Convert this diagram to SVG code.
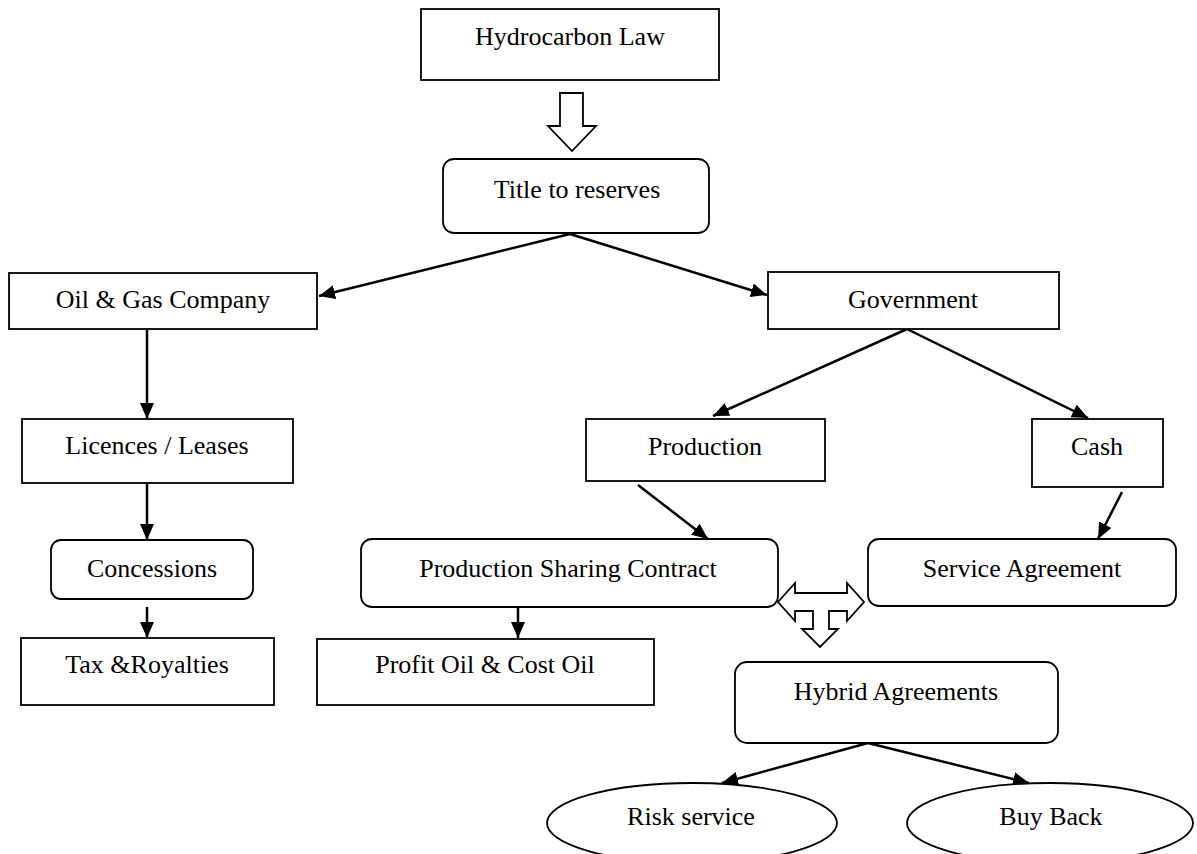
<svg xmlns="http://www.w3.org/2000/svg" width="1197" height="854" viewBox="0 0 1197 854">
<style>
.box{fill:#fff;stroke:#000;stroke-width:1.8}
.t{font-family:"Liberation Serif","Times New Roman",serif;font-size:26px;fill:#000;text-anchor:middle}
.c{stroke:#000;stroke-width:2.5;fill:none;marker-end:url(#ah)}
.blk{fill:#fff;stroke:#000;stroke-width:1.8;stroke-linejoin:miter}
</style>
<defs>
<marker id="ah" markerUnits="userSpaceOnUse" markerWidth="17" markerHeight="15" refX="16" refY="7" orient="auto">
<path d="M0,0 L16,7 L0,14 z" fill="#000"/>
</marker>
</defs>
<rect width="1197" height="854" fill="#fff"/>

<g id="connectors">
<polygon class="blk" points="560,93 583,93 583,126 596,126 572,151 548,126 560,126"/>
<line class="c" x1="570" y1="234" x2="319" y2="296"/>
<line class="c" x1="570" y1="234" x2="767" y2="295"/>
<line class="c" x1="147" y1="329" x2="147" y2="419"/>
<line class="c" x1="147" y1="483" x2="147" y2="540"/>
<line class="c" x1="147" y1="607" x2="147" y2="638"/>
<line class="c" x1="907" y1="329" x2="713" y2="416"/>
<line class="c" x1="907" y1="329" x2="1088" y2="418"/>
<line class="c" x1="638" y1="485" x2="708" y2="539"/>
<line class="c" x1="1122" y1="492" x2="1098" y2="539"/>
<line class="c" x1="518" y1="607" x2="518" y2="638"/>
<line class="c" x1="868" y1="743" x2="722" y2="783"/>
<line class="c" x1="868" y1="743" x2="1029" y2="783"/>
<polygon class="blk" points="778,602 795,583 795,593 847,593 847,583 864,602 847,621 847,611 829,611 829,629 838,629 820,647 802,629 813,629 813,611 795,611 795,621"/>
</g>

<g id="hydrocarbon-law"><rect class="box" x="421" y="9" width="298" height="71"/><text class="t" x="570" y="45">Hydrocarbon Law</text></g>
<g id="title-to-reserves"><rect class="box" x="443" y="159" width="266" height="74" rx="11"/><text class="t" x="577" y="198">Title to reserves</text></g>
<g id="oil-gas-company"><rect class="box" x="9" y="273" width="308" height="56"/><text class="t" x="163" y="308">Oil &amp; Gas Company</text></g>
<g id="government"><rect class="box" x="768" y="272" width="291" height="57"/><text class="t" x="913" y="308">Government</text></g>
<g id="licences-leases"><rect class="box" x="22" y="419" width="271" height="64"/><text class="t" x="157" y="454">Licences / Leases</text></g>
<g id="production"><rect class="box" x="586" y="419" width="239" height="62"/><text class="t" x="705" y="455">Production</text></g>
<g id="cash"><rect class="box" x="1032" y="419" width="131" height="68"/><text class="t" x="1097" y="455">Cash</text></g>
<g id="concessions"><rect class="box" x="51" y="540" width="202" height="59" rx="10"/><text class="t" x="152" y="577">Concessions</text></g>
<g id="psc"><rect class="box" x="361" y="539" width="417" height="68" rx="11"/><text class="t" x="568" y="577">Production Sharing Contract</text></g>
<g id="service-agreement"><rect class="box" x="868" y="539" width="308" height="67" rx="11"/><text class="t" x="1022" y="577">Service Agreement</text></g>
<g id="tax-royalties"><rect class="box" x="21" y="638" width="253" height="67"/><text class="t" x="147" y="673">Tax &amp;Royalties</text></g>
<g id="profit-cost-oil"><rect class="box" x="317" y="639" width="337" height="66"/><text class="t" x="485" y="673">Profit Oil &amp; Cost Oil</text></g>
<g id="hybrid-agreements"><rect class="box" x="735" y="662" width="323" height="81" rx="12"/><text class="t" x="896" y="700">Hybrid Agreements</text></g>
<g id="risk-service"><ellipse class="box" cx="692" cy="823" rx="145" ry="40"/><text class="t" x="691" y="825">Risk service</text></g>
<g id="buy-back"><ellipse class="box" cx="1050" cy="823" rx="143" ry="40"/><text class="t" x="1051" y="825">Buy Back</text></g>
</svg>
